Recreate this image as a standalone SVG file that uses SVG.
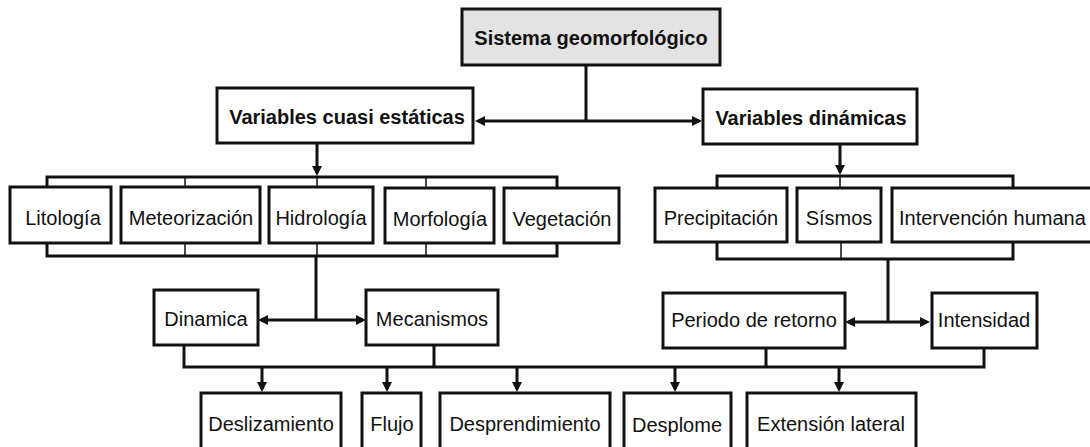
<svg xmlns="http://www.w3.org/2000/svg" width="1090" height="447" viewBox="0 0 1090 447">
<style>
.box{fill:#fff;stroke:#111;stroke-width:3}
.hdr{fill:#e3e3e3;stroke:#111;stroke-width:3}
.t{font-family:"Liberation Sans",Arial,sans-serif;font-size:20px;fill:#111;text-anchor:middle}
.b{font-weight:bold}
.ln{fill:none;stroke:#111;stroke-width:3}
.thin{fill:none;stroke:#111;stroke-width:1.5}
.ar{marker-end:url(#ah)}
.dbl{marker-start:url(#ah);marker-end:url(#ah)}
</style>
<defs>
<marker id="ah" markerUnits="userSpaceOnUse" markerWidth="11" markerHeight="11" refX="7" refY="5" orient="auto-start-reverse" viewBox="0 0 11 10">
<path d="M0,0 L10,5 L0,10 z" fill="#111"/>
</marker>
</defs>
<rect width="1090" height="447" fill="#fff"/>
<g id="connectors">
<path class="ln" d="M586,65 V121"/>
<path class="ln dbl" d="M478,121 H699"/>
<path class="ln ar" d="M317,143 V173"/>
<path class="ln ar" d="M840,144 V172"/>
<path class="ln" d="M47,187 V177 H557 V188"/>
<path class="thin" d="M185,177 V187 M317,177 V187 M426,177 V188"/>
<path class="ln" d="M47,243 V256 H557 V243"/>
<path class="thin" d="M185,243 V256 M317,243 V256 M426,243 V256"/>
<path class="ln" d="M316,256 V320"/>
<path class="ln dbl" d="M261,320 H363"/>
<path class="ln" d="M717,188 V176 H1013 V188"/>
<path class="thin" d="M840,176 V188"/>
<path class="ln" d="M717,242 V259 H1013 V242"/>
<path class="thin" d="M841,242 V259"/>
<path class="ln" d="M888,259 V322"/>
<path class="ln dbl" d="M848,322 H927"/>
<path class="ln" d="M184,345 V367 H984 V348 M434,345 V367 M766,348 V367"/>
<path class="ln ar" d="M262,367 V389"/>
<path class="ln ar" d="M387,367 V389"/>
<path class="ln ar" d="M517,367 V389"/>
<path class="ln ar" d="M675,367 V389"/>
<path class="ln ar" d="M839,367 V389"/>
</g>
<g id="sistema"><rect class="hdr" x="462" y="9" width="258" height="56"/><text class="t b" x="591" y="45">Sistema geomorfológico</text></g>
<g id="cuasi"><rect class="box" x="217" y="88" width="256" height="55"/><text class="t b" x="347" y="124">Variables cuasi estáticas</text></g>
<g id="dinamicas"><rect class="box" x="703" y="89" width="214" height="55"/><text class="t b" x="811" y="125">Variables dinámicas</text></g>
<g id="litologia"><rect class="box" x="10" y="187" width="101" height="56"/><text class="t" x="63" y="225">Litología</text></g>
<g id="meteorizacion"><rect class="box" x="121" y="187" width="139" height="56"/><text class="t" x="191" y="225">Meteorización</text></g>
<g id="hidrologia"><rect class="box" x="269" y="187" width="104" height="56"/><text class="t" x="321" y="225">Hidrología</text></g>
<g id="morfologia"><rect class="box" x="385" y="188" width="109" height="55"/><text class="t" x="440" y="226">Morfología</text></g>
<g id="vegetacion"><rect class="box" x="504" y="188" width="115" height="55"/><text class="t" x="562" y="226">Vegetación</text></g>
<g id="precipitacion"><rect class="box" x="655" y="188" width="132" height="54"/><text class="t" x="721" y="225">Precipitación</text></g>
<g id="sismos"><rect class="box" x="797" y="188" width="84" height="54"/><text class="t" x="839" y="225">Sísmos</text></g>
<g id="intervencion"><rect class="box" x="892" y="188" width="210" height="54"/><text class="t" x="899" y="225" style="text-anchor:start">Intervención humana</text></g>
<g id="dinamica"><rect class="box" x="154" y="290" width="104" height="55"/><text class="t" x="206" y="326">Dinamica</text></g>
<g id="mecanismos"><rect class="box" x="366" y="290" width="132" height="55"/><text class="t" x="432" y="326">Mecanismos</text></g>
<g id="periodo"><rect class="box" x="663" y="293" width="182" height="55"/><text class="t" x="754" y="327">Periodo de retorno</text></g>
<g id="intensidad"><rect class="box" x="932" y="293" width="105" height="55"/><text class="t" x="984" y="327">Intensidad</text></g>
<g id="deslizamiento"><rect class="box" x="201" y="393" width="140" height="70"/><text class="t" x="271" y="431">Deslizamiento</text></g>
<g id="flujo"><rect class="box" x="362" y="393" width="59" height="70"/><text class="t" x="392" y="431">Flujo</text></g>
<g id="desprendimiento"><rect class="box" x="440" y="393" width="170" height="70"/><text class="t" x="525" y="431">Desprendimiento</text></g>
<g id="desplome"><rect class="box" x="624" y="393" width="107" height="70"/><text class="t" x="677" y="432">Desplome</text></g>
<g id="extension"><rect class="box" x="747" y="393" width="169" height="70"/><text class="t" x="831" y="431">Extensión lateral</text></g>
</svg>
